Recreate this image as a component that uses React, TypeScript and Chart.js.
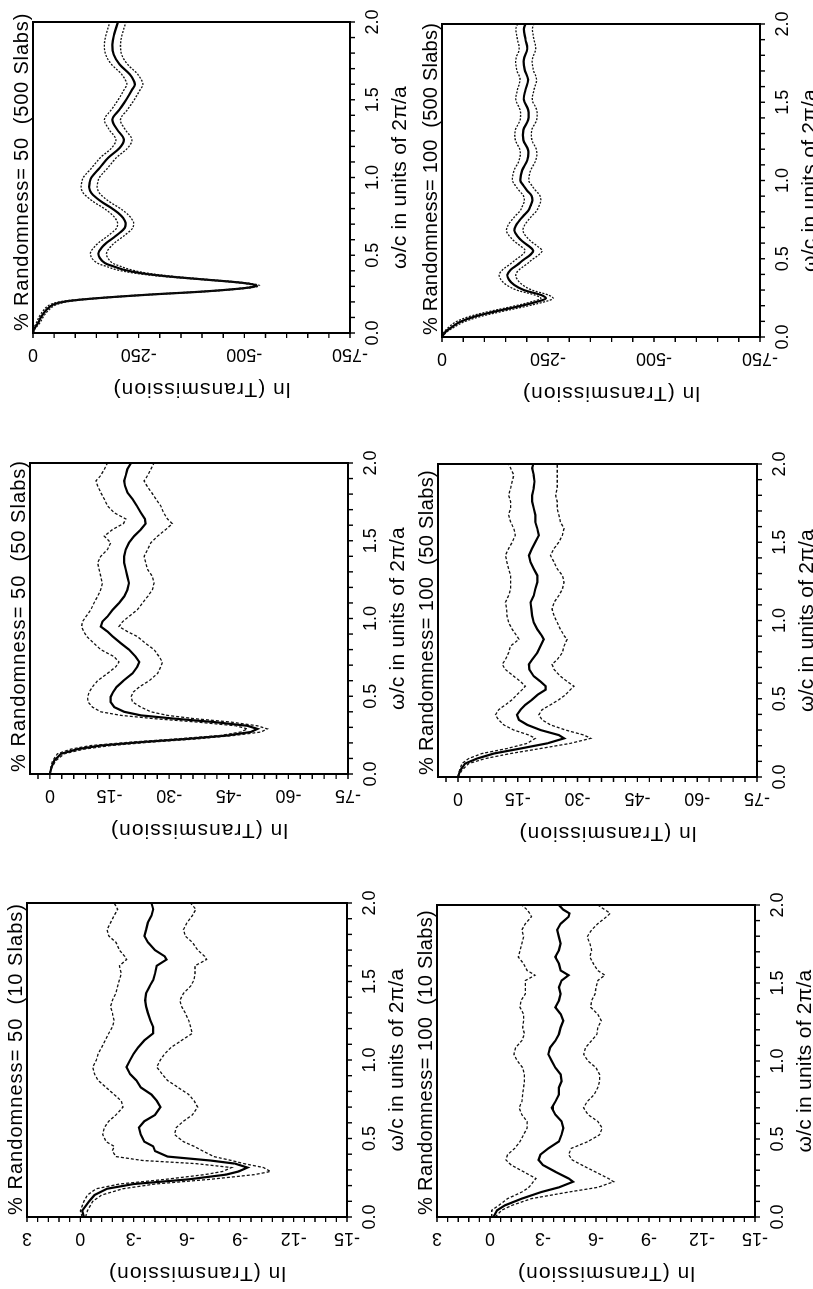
import React, { useEffect, useRef } from 'react';
import { Chart, registerables } from 'chart.js';

Chart.register(...registerables);

// ---------------- DATA ----------------
const X_TICK_VALUES = [0, 0.5, 1, 1.5, 2];
const X_TICK_LABELS = ['0.0', '0.5', '1.0', '1.5', '2.0'];
const Y_LABELS_10 = [3, 0, -3, -6, -9, -12, -15];
const Y_LABELS_50 = [0, -15, -30, -45, -60, -75];
const Y_LABELS_500 = [0, -250, -500, -750];
const X_TITLE = 'ω/c in units of 2π/a';
const Y_TITLE = 'ln (Transmission)';

// Randomness 50, 10 slabs
const OMEGA_R50_S10 = [0, 0.04, 0.1, 0.14, 0.18, 0.21, 0.24, 0.27, 0.29, 0.315, 0.34, 0.36, 0.385, 0.42, 0.45, 0.48, 0.525, 0.57, 0.61, 0.65, 0.7, 0.74, 0.78, 0.825, 0.87, 0.91, 0.955, 1.0, 1.04, 1.08, 1.125, 1.17, 1.21, 1.25, 1.3, 1.34, 1.38, 1.425, 1.47, 1.51, 1.55, 1.6, 1.64, 1.66, 1.7, 1.75, 1.79, 1.83, 1.875, 1.92, 1.96, 2.0];
const MEAN_R50_S10 = [-0.2, -0.1, -0.5, -0.8, -1.5, -3.0, -6.1, -8.2, -8.9, -9.4, -8.7, -7.3, -4.9, -4.2, -4.1, -3.6, -3.4, -3.3, -3.6, -4.2, -4.5, -4.3, -4.0, -3.4, -3.15, -2.8, -2.6, -2.8, -3.0, -3.25, -3.6, -4.1, -4.1, -3.95, -3.8, -3.7, -3.65, -3.7, -3.9, -4.1, -4.2, -4.3, -4.85, -4.75, -4.2, -3.8, -3.6, -3.7, -3.8, -4.0, -4.1, -4.0];
const UPPER_R50_S10 = [-0.1, 0.0, -0.2, -0.4, -0.9, -2.2, -4.8, -7.0, -8.0, -8.5, -6.5, -3.5, -2.0, -1.8, -1.9, -1.45, -1.26, -1.35, -1.6, -2.0, -2.4, -2.3, -1.9, -1.45, -1.0, -0.8, -0.7, -0.9, -1.0, -1.2, -1.4, -1.6, -1.8, -1.9, -1.8, -1.7, -1.8, -2.0, -2.1, -2.2, -2.3, -2.2, -2.6, -2.5, -2.2, -2.0, -1.6, -1.5, -1.7, -1.9, -2.1, -1.9];
const LOWER_R50_S10 = [-0.3, -0.4, -0.7, -1.2, -2.4, -4.2, -7.3, -9.8, -10.7, -10.3, -9.2, -8.5, -7.5, -6.9, -6.4, -5.8, -5.3, -5.4, -5.8, -6.3, -6.6, -6.4, -6.1, -5.5, -4.9, -4.6, -4.3, -4.5, -4.75, -5.1, -5.7, -6.3, -6.2, -6.1, -5.9, -5.7, -5.6, -5.8, -6.2, -6.4, -6.45, -6.45, -7.1, -7.0, -6.6, -6.3, -5.9, -5.8, -6.0, -6.3, -6.5, -6.2];

// Randomness 100, 10 slabs
const OMEGA_R100_S10 = [0, 0.043, 0.075, 0.118, 0.16, 0.19, 0.226, 0.247, 0.29, 0.333, 0.366, 0.4, 0.44, 0.484, 0.527, 0.57, 0.613, 0.656, 0.7, 0.74, 0.785, 0.83, 0.87, 0.914, 0.957, 1.0, 1.043, 1.086, 1.13, 1.172, 1.215, 1.258, 1.3, 1.344, 1.387, 1.43, 1.473, 1.516, 1.55, 1.58, 1.624, 1.667, 1.71, 1.753, 1.796, 1.84, 1.88, 1.925, 1.946, 1.97, 2.0];
const MEAN_R100_S10 = [-0.2, -0.4, -0.85, -1.8, -2.9, -3.9, -4.7, -4.45, -3.7, -3.0, -2.75, -2.85, -3.3, -3.9, -4.05, -4.15, -4.05, -3.7, -3.5, -3.7, -3.9, -3.9, -4.05, -4.0, -3.7, -3.5, -3.3, -3.4, -3.7, -3.9, -4.0, -4.15, -4.0, -3.7, -3.9, -4.0, -3.9, -4.05, -4.45, -4.0, -3.9, -3.7, -3.9, -4.0, -3.9, -3.8, -4.0, -4.45, -4.5, -4.15, -3.9];
const UPPER_R100_S10 = [-0.1, -0.1, -0.5, -1.0, -1.8, -2.2, -2.45, -2.6, -1.9, -1.2, -0.9, -1.0, -1.4, -1.7, -1.9, -2.1, -2.1, -1.8, -1.65, -1.8, -1.85, -1.9, -1.95, -1.95, -1.85, -1.55, -1.35, -1.45, -1.8, -1.95, -1.85, -1.9, -1.9, -1.7, -1.75, -2.0, -2.0, -2.0, -2.55, -2.1, -1.9, -1.6, -1.7, -1.8, -1.9, -1.8, -2.0, -2.35, -2.25, -2.1, -1.8];
const LOWER_R100_S10 = [-0.3, -0.65, -1.25, -2.35, -4.45, -6.1, -7.0, -6.7, -5.95, -5.2, -4.65, -4.45, -4.6, -5.55, -6.2, -6.35, -6.1, -5.55, -5.3, -5.5, -5.9, -6.1, -6.2, -6.2, -6.0, -5.55, -5.3, -5.4, -5.75, -6.05, -6.1, -6.3, -6.1, -5.7, -5.75, -5.95, -6.0, -6.1, -6.5, -6.1, -5.85, -5.65, -5.75, -5.65, -5.5, -5.75, -6.1, -6.6, -6.8, -6.5, -6.1];

// Randomness 50, 50 slabs
const OMEGA_R50_S50 = [0, 0.043, 0.086, 0.13, 0.16, 0.183, 0.205, 0.226, 0.248, 0.27, 0.29, 0.31, 0.334, 0.356, 0.377, 0.4, 0.43, 0.463, 0.496, 0.527, 0.56, 0.6, 0.647, 0.69, 0.72, 0.754, 0.8, 0.84, 0.884, 0.916, 0.948, 0.98, 1.013, 1.056, 1.1, 1.142, 1.185, 1.228, 1.27, 1.315, 1.358, 1.4, 1.444, 1.487, 1.53, 1.573, 1.61, 1.64, 1.68, 1.724, 1.767, 1.81, 1.853, 1.885, 1.92, 1.96, 2.0];
const MEAN_R50_S50 = [0, -0.4, -1.1, -2.8, -7.0, -12.8, -22.9, -34.6, -44.7, -50.5, -52.2, -49.7, -41.3, -31.3, -22.9, -18.7, -16.2, -15.3, -15.3, -15.9, -16.8, -18.5, -20.8, -22.0, -22.5, -21.6, -19.9, -17.9, -15.8, -14.5, -12.8, -13.2, -14.5, -15.8, -17.4, -18.7, -19.5, -19.9, -19.5, -19.1, -18.7, -18.7, -19.1, -19.9, -21.2, -22.9, -24.1, -23.9, -22.9, -21.9, -20.8, -19.5, -18.9, -18.7, -19.1, -19.5, -20.4];
const UPPER_R50_S50 = [0, -0.25, -0.7, -1.9, -5.3, -10.3, -20.4, -32.1, -43.0, -48.0, -49.7, -46.8, -37.1, -26.2, -17.9, -12.8, -10.7, -9.6, -9.5, -9.9, -10.7, -12.0, -14.5, -16.6, -17.4, -16.2, -12.8, -11.1, -9.3, -8.5, -8.0, -8.2, -9.1, -10.3, -11.1, -12.0, -12.8, -13.2, -12.8, -12.4, -12.0, -12.8, -14.5, -15.3, -13.7, -15.8, -18.5, -19.1, -16.2, -14.5, -13.7, -12.8, -12.0, -11.6, -12.8, -13.7, -14.5];
const LOWER_R50_S50 = [0, -0.5, -1.5, -3.6, -8.6, -15.3, -25.4, -37.1, -46.4, -53.1, -54.7, -52.2, -45.5, -36.3, -29.6, -25.4, -22.9, -20.8, -20.4, -21.0, -22.5, -25.0, -27.1, -27.9, -28.3, -27.5, -26.2, -24.1, -22.0, -19.5, -17.4, -18.3, -19.9, -22.0, -23.3, -24.6, -25.8, -26.2, -25.8, -24.6, -24.1, -23.7, -24.6, -25.4, -27.1, -29.2, -30.8, -29.6, -28.6, -27.9, -26.7, -25.6, -24.4, -23.7, -24.6, -25.4, -26.2];

// Randomness 100, 50 slabs
const OMEGA_R100_S50 = [0, 0.043, 0.086, 0.118, 0.15, 0.182, 0.215, 0.247, 0.268, 0.3, 0.333, 0.365, 0.397, 0.43, 0.461, 0.494, 0.526, 0.558, 0.58, 0.61, 0.644, 0.687, 0.72, 0.75, 0.794, 0.837, 0.88, 0.9, 0.944, 0.987, 1.03, 1.073, 1.116, 1.159, 1.2, 1.245, 1.288, 1.33, 1.373, 1.416, 1.46, 1.5, 1.545, 1.588, 1.63, 1.674, 1.717, 1.76, 1.8, 1.845, 1.888, 1.93, 1.974, 2.0];
const MEAN_R100_S50 = [0, -0.6, -1.8, -4.8, -9.0, -15.7, -22.4, -26.6, -25.3, -20.7, -17.4, -15.3, -14.8, -15.7, -16.9, -18.6, -20.0, -22.0, -22.0, -20.7, -19.0, -17.9, -17.8, -18.6, -19.9, -20.7, -21.5, -21.1, -19.9, -19.0, -18.6, -18.4, -18.2, -19.0, -19.4, -19.9, -19.9, -19.0, -18.2, -17.8, -18.6, -19.4, -20.3, -19.9, -19.4, -19.4, -19.0, -18.6, -18.6, -19.0, -19.2, -19.0, -18.6, -18.9];
const UPPER_R100_S50 = [0, -0.4, -1.0, -2.7, -6.0, -12.3, -17.4, -19.4, -17.8, -14.0, -11.5, -10.2, -9.4, -10.2, -11.9, -13.6, -14.8, -16.1, -16.9, -15.7, -14.0, -11.9, -11.1, -11.9, -12.7, -13.2, -15.3, -14.8, -13.6, -12.7, -12.3, -12.2, -11.9, -12.7, -13.2, -13.2, -13.2, -12.7, -12.3, -11.9, -12.7, -13.6, -14.4, -14.0, -13.2, -12.7, -13.2, -13.2, -12.7, -13.2, -13.6, -14.0, -13.2, -12.7];
const LOWER_R100_S50 = [0, -1.0, -2.7, -6.9, -13.2, -20.7, -28.2, -33.3, -31.6, -27.0, -23.2, -21.1, -20.3, -21.1, -23.2, -25.3, -27.0, -28.2, -29.1, -27.4, -25.7, -24.1, -23.6, -24.9, -26.2, -26.6, -27.4, -26.7, -25.7, -24.9, -24.1, -23.6, -24.1, -25.3, -26.2, -26.6, -26.2, -24.9, -24.1, -23.2, -24.1, -25.3, -26.2, -26.6, -25.7, -25.3, -24.9, -24.9, -24.5, -24.9, -24.9, -24.9, -24.9, -24.9];

// Randomness 50, 500 slabs
const OMEGA_R50_S500 = [0, 0.032, 0.064, 0.107, 0.15, 0.182, 0.204, 0.225, 0.247, 0.268, 0.29, 0.305, 0.322, 0.343, 0.365, 0.386, 0.408, 0.43, 0.45, 0.483, 0.515, 0.547, 0.58, 0.61, 0.644, 0.676, 0.708, 0.74, 0.773, 0.805, 0.837, 0.869, 0.9, 0.933, 0.966, 1.0, 1.062, 1.127, 1.19, 1.245, 1.309, 1.373, 1.438, 1.502, 1.567, 1.6, 1.663, 1.727, 1.79, 1.856, 1.92, 2.0];
const MEAN_R50_S500 = [0, -4, -12, -20, -32, -47, -79, -158, -276, -410, -505, -529, -497, -410, -316, -253, -213, -189, -170, -158, -155, -162, -174, -189, -205, -217, -219, -213, -201, -185, -166, -150, -138, -133, -134, -138, -158, -178, -205, -215, -199, -188, -205, -221, -235, -241, -229, -205, -191, -188, -192, -201];
const UPPER_R50_S500 = [0, -2, -8, -15, -26, -40, -70, -148, -266, -400, -497, -522, -489, -400, -302, -238, -196, -172, -152, -139, -136, -143, -155, -170, -186, -198, -200, -194, -182, -166, -147, -131, -119, -114, -115, -119, -139, -159, -186, -196, -180, -169, -186, -202, -216, -222, -210, -186, -172, -169, -173, -182];
const LOWER_R50_S500 = [0, -6, -16, -25, -38, -55, -88, -168, -286, -420, -513, -536, -505, -420, -330, -268, -230, -206, -188, -177, -174, -181, -193, -208, -224, -236, -238, -232, -220, -204, -185, -169, -157, -152, -153, -157, -177, -197, -224, -234, -218, -207, -224, -240, -254, -260, -248, -224, -210, -207, -211, -220];

// Randomness 100, 500 slabs
const OMEGA_R100_S500 = [0, 0.032, 0.065, 0.097, 0.129, 0.161, 0.194, 0.226, 0.247, 0.269, 0.3, 0.333, 0.366, 0.398, 0.43, 0.462, 0.495, 0.527, 0.553, 0.58, 0.613, 0.645, 0.677, 0.71, 0.742, 0.774, 0.806, 0.839, 0.871, 0.903, 0.935, 0.968, 1.0, 1.065, 1.129, 1.194, 1.258, 1.323, 1.387, 1.452, 1.516, 1.58, 1.645, 1.71, 1.774, 1.84, 1.9, 1.968, 2.0];
const MEAN_R100_S500 = [0, -8, -24, -43, -75, -122, -178, -225, -245, -233, -193, -170, -158, -154, -162, -178, -193, -209, -215, -205, -189, -178, -171, -174, -182, -192, -203, -209, -213, -211, -201, -192, -185, -189, -201, -203, -192, -192, -203, -203, -193, -197, -203, -195, -193, -201, -197, -193, -197];
const UPPER_R100_S500 = [0, -5, -17, -33, -62, -108, -164, -212, -233, -218, -176, -152, -139, -135, -143, -159, -174, -190, -196, -186, -170, -159, -152, -155, -163, -173, -184, -190, -194, -192, -182, -173, -166, -170, -182, -184, -173, -173, -184, -184, -174, -178, -184, -176, -174, -182, -178, -174, -178];
const LOWER_R100_S500 = [0, -11, -30, -52, -88, -138, -195, -243, -262, -250, -212, -190, -178, -174, -182, -198, -213, -229, -236, -225, -209, -198, -191, -194, -202, -212, -223, -229, -233, -231, -221, -212, -205, -209, -221, -223, -212, -212, -223, -223, -213, -217, -223, -215, -213, -221, -217, -213, -217];

// ---------------- LAYOUT / STYLE ----------------
const FONT = '"Liberation Sans", Arial, Helvetica, sans-serif';
const M_LEFT = 72;
const M_RIGHT = 24;
const M_TOP = 30;
const M_BOTTOM = 66;

type Spec = {
  title: string;
  titleWidth: number;
  omega: number[];
  mean: number[];
  upper: number[];
  lower: number[];
  yMin: number;
  yMax: number;
  yMinor: number;
  yLabels: number[];
  dash: number[];
  tension: number;
  box: { l: number; r: number; t: number; b: number };
};

const PANELS: Spec[] = [
  { title: '% Randomness= 50  (10 Slabs)', titleWidth: 312, omega: OMEGA_R50_S10, mean: MEAN_R50_S10, upper: UPPER_R50_S10, lower: LOWER_R50_S10, yMin: -15, yMax: 3, yMinor: 0.6, yLabels: Y_LABELS_10, dash: [3, 2], tension: 0, box: { l: 72, r: 386, t: 27, b: 347 } },
  { title: '% Randomness= 50  (50 Slabs)', titleWidth: 312, omega: OMEGA_R50_S50, mean: MEAN_R50_S50, upper: UPPER_R50_S50, lower: LOWER_R50_S50, yMin: -75, yMax: 5, yMinor: 3, yLabels: Y_LABELS_50, dash: [3, 2], tension: 0, box: { l: 515, r: 826, t: 30, b: 348 } },
  { title: '% Randomness= 50  (500 Slabs)', titleWidth: 318, omega: OMEGA_R50_S500, mean: MEAN_R50_S500, upper: UPPER_R50_S500, lower: LOWER_R50_S500, yMin: -750, yMax: 0, yMinor: 50, yLabels: Y_LABELS_500, dash: [2, 1.5], tension: 0.35, box: { l: 956, r: 1267, t: 33, b: 350 } },
  { title: '% Randomness= 100  (10 Slabs)', titleWidth: 305, omega: OMEGA_R100_S10, mean: MEAN_R100_S10, upper: UPPER_R100_S10, lower: LOWER_R100_S10, yMin: -15, yMax: 3, yMinor: 0.6, yLabels: Y_LABELS_10, dash: [3, 2], tension: 0, box: { l: 72, r: 384, t: 437, b: 755 } },
  { title: '% Randomness= 100  (50 Slabs)', titleWidth: 305, omega: OMEGA_R100_S50, mean: MEAN_R100_S50, upper: UPPER_R100_S50, lower: LOWER_R100_S50, yMin: -75, yMax: 5, yMinor: 3, yLabels: Y_LABELS_50, dash: [3, 2], tension: 0, box: { l: 512, r: 825, t: 438, b: 757 } },
  { title: '% Randomness= 100  (500 Slabs)', titleWidth: 312, omega: OMEGA_R100_S500, mean: MEAN_R100_S500, upper: UPPER_R100_S500, lower: LOWER_R100_S500, yMin: -750, yMax: 0, yMinor: 50, yLabels: Y_LABELS_500, dash: [2, 1.5], tension: 0.35, box: { l: 952, r: 1265, t: 442, b: 760 } },
];

function fillFit(ctx: CanvasRenderingContext2D, text: string, x: number, y: number, target: number) {
  const w = ctx.measureText(text).width;
  const anyCtx = ctx as any;
  if ('letterSpacing' in anyCtx && text.length > 1) {
    const sp = (target - w) / text.length;
    anyCtx.letterSpacing = `${sp.toFixed(2)}px`;
    ctx.fillText(text, x, y);
    anyCtx.letterSpacing = '0px';
  } else {
    ctx.fillText(text, x, y);
  }
}

function makeFramePlugin(spec: Spec) {
  return {
    id: 'frameAndLabels',
    afterDraw(chart: any) {
      const { ctx, chartArea: a, scales } = chart;
      const xs = scales.x;
      const ys = scales.y;
      ctx.save();
      ctx.setLineDash([]);
      ctx.strokeStyle = '#000';
      ctx.fillStyle = '#000';
      // frame
      ctx.lineWidth = 2;
      ctx.strokeRect(a.left, a.top, a.right - a.left, a.bottom - a.top);
      // x ticks (every 0.1)
      ctx.lineWidth = 1.4;
      ctx.beginPath();
      for (let k = 0; k <= 20; k++) {
        const px = xs.getPixelForValue(k * 0.1);
        ctx.moveTo(px, a.bottom);
        ctx.lineTo(px, a.bottom + 5);
      }
      // y ticks
      const n = Math.floor((spec.yMax - spec.yMin) / spec.yMinor + 1e-6);
      for (let k = 0; k <= n; k++) {
        const v = spec.yMin + k * spec.yMinor;
        const py = ys.getPixelForValue(v);
        ctx.moveTo(a.left - 5, py);
        ctx.lineTo(a.left, py);
      }
      ctx.stroke();
      // x tick labels
      ctx.font = `18px ${FONT}`;
      ctx.textAlign = 'center';
      ctx.textBaseline = 'alphabetic';
      X_TICK_VALUES.forEach((v, i) => {
        ctx.fillText(X_TICK_LABELS[i], xs.getPixelForValue(v), a.bottom + 28);
      });
      // y tick labels (rotated)
      spec.yLabels.forEach((v) => {
        const py = ys.getPixelForValue(v);
        ctx.save();
        ctx.translate(a.left - 16, py);
        ctx.rotate(-Math.PI / 2);
        ctx.textAlign = 'center';
        ctx.fillText(String(v), 0, 0);
        ctx.restore();
      });
      // x title
      ctx.font = `21px ${FONT}`;
      ctx.textAlign = 'center';
      fillFit(ctx, X_TITLE, (a.left + a.right) / 2, a.bottom + 56, 183);
      // y title
      ctx.save();
      ctx.translate(a.left - 50, (a.top + a.bottom) / 2 + 10);
      ctx.rotate(-Math.PI / 2);
      ctx.textAlign = 'center';
      fillFit(ctx, Y_TITLE, 0, 0, 178);
      ctx.restore();
      // panel title
      ctx.font = `20px ${FONT}`;
      ctx.textAlign = 'left';
      fillFit(ctx, spec.title, a.left + 2, a.top - 5, spec.titleWidth);
      ctx.restore();
    },
  };
}

function Panel({ spec }: { spec: Spec }) {
  const ref = useRef<HTMLCanvasElement | null>(null);
  const width = spec.box.r - spec.box.l + M_LEFT + M_RIGHT;
  const height = spec.box.b - spec.box.t + M_TOP + M_BOTTOM;

  useEffect(() => {
    if (!ref.current) return;
    const toPts = (arr: number[]) => spec.omega.map((w, i) => ({ x: w, y: arr[i] }));
    const chart = new Chart(ref.current, {
      type: 'line',
      data: {
        datasets: [
          { data: toPts(spec.upper), borderColor: '#111', borderWidth: 1.3, borderDash: spec.dash, pointRadius: 0, tension: spec.tension, fill: false },
          { data: toPts(spec.lower), borderColor: '#111', borderWidth: 1.3, borderDash: spec.dash, pointRadius: 0, tension: spec.tension, fill: false },
          { data: toPts(spec.mean), borderColor: '#000', borderWidth: 2.2, pointRadius: 0, tension: spec.tension, fill: false },
        ],
      },
      options: {
        animation: false,
        responsive: false,
        maintainAspectRatio: false,
        devicePixelRatio: 1,
        layout: { padding: { left: 0, right: M_RIGHT, top: M_TOP, bottom: 0 } },
        plugins: { legend: { display: false }, title: { display: false }, tooltip: { enabled: false } },
        events: [],
        scales: {
          x: {
            type: 'linear',
            min: 0,
            max: 2,
            grid: { display: false },
            border: { display: false },
            ticks: { display: false },
            afterFit: (s: any) => { s.height = M_BOTTOM; },
          },
          y: {
            type: 'linear',
            min: spec.yMin,
            max: spec.yMax,
            grid: { display: false },
            border: { display: false },
            ticks: { display: false },
            afterFit: (s: any) => { s.width = M_LEFT; },
          },
        },
      } as any,
      plugins: [makeFramePlugin(spec)],
    });
    return () => chart.destroy();
  }, [spec]);

  return (
    <canvas
      ref={ref}
      width={width}
      height={height}
      style={{ position: 'absolute', left: spec.box.l - M_LEFT, top: spec.box.t - M_TOP, width, height }}
    />
  );
}

export default function App() {
  return (
    <div style={{ position: 'fixed', left: 0, top: 0, width: 813, height: 1289, overflow: 'hidden', background: '#fff' }}>
      <div
        style={{
          position: 'absolute',
          left: 0,
          top: 0,
          width: 1289,
          height: 813,
          transformOrigin: '0 0',
          transform: 'translate(0px, 1289px) rotate(-90deg)',
        }}
      >
        {PANELS.map((p, i) => (
          <Panel key={i} spec={p} />
        ))}
      </div>
    </div>
  );
}
